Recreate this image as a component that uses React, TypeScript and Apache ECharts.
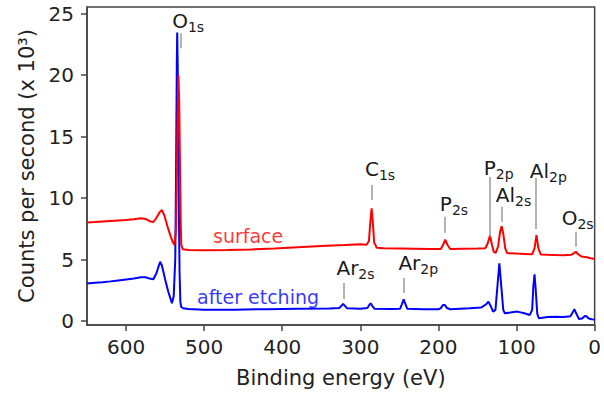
import React, { useEffect, useRef } from "react";
import * as echarts from "echarts";

// Survey spectrum, surface (red)  [binding energy eV, counts/s x 10^3]
const surfaceData: [number, number][] = [
  [650, 8.02], [640, 8.05], [630, 8.1], [620, 8.14], [610, 8.18], [600, 8.22], [590, 8.28],
  [581, 8.35], [575, 8.3], [570, 8.12], [565, 8.05], [561, 8.4], [557, 8.85], [554, 9.02],
  [551, 8.6], [547, 7.7], [543, 6.9], [540, 6.4], [538, 6.18], [536, 7.5], [535, 12],
  [534, 16.5], [533, 20.0], [532, 18], [531, 13], [530, 8], [529.3, 6.2], [527.3, 5.83],
  [520, 5.78], [500, 5.75], [470, 5.78], [440, 5.82], [410, 5.9], [380, 6.0], [350, 6.1],
  [320, 6.18], [300, 6.25], [292, 6.2], [289, 6.5], [287.3, 8.0], [285.6, 9.16], [284, 8.0],
  [282.3, 6.4], [279, 5.95], [270, 5.92], [250, 5.9], [230, 5.88], [210, 5.85], [197, 5.85],
  [194, 6.2], [191.3, 6.62], [188.5, 6.2], [185, 5.85], [170, 5.88], [150, 5.9], [140, 5.92],
  [137, 6.3], [134, 6.95], [131.5, 6.2], [129, 5.6], [126.5, 5.55], [123.5, 6.1], [121, 7.3],
  [119, 7.7], [117, 7.1], [114.5, 5.9], [112, 5.52], [100, 5.48], [90, 5.45], [80, 5.42],
  [77, 5.9], [74.5, 6.99], [72, 5.9], [69, 5.4], [60, 5.38], [50, 5.36], [40, 5.35],
  [30, 5.38], [27, 5.5], [24, 5.63], [21.5, 5.45], [17, 5.25], [10, 5.18], [5, 5.1], [0, 5.05],
];

// Survey spectrum, after etching (blue)
const etchedData: [number, number][] = [
  [650, 3.05], [640, 3.1], [630, 3.15], [620, 3.22], [610, 3.3], [600, 3.38], [590, 3.45],
  [581, 3.55], [575, 3.55], [570, 3.45], [565, 3.39], [561, 3.9], [558, 4.5], [556.3, 4.82],
  [554, 4.5], [550, 3.4], [546, 2.4], [543, 1.8], [541.3, 1.44], [539, 2.0], [537, 5.0],
  [536, 12], [535, 21], [534.5, 23.47], [533.5, 19], [532.5, 10], [531.5, 4], [530.5, 1.6],
  [529.5, 1.16], [527, 1.03], [520, 0.98], [500, 0.92], [460, 0.92], [420, 0.96], [380, 1.0],
  [340, 1.02], [327, 1.05], [324, 1.25], [322, 1.38], [320, 1.25], [317, 1.03], [300, 1.0],
  [291, 1.05], [288.5, 1.3], [286.8, 1.44], [285, 1.25], [282, 1.0], [260, 0.98], [249, 1.0],
  [246.5, 1.4], [244.5, 1.76], [242.5, 1.4], [240, 1.0], [220, 0.95], [200, 0.95], [197, 1.05],
  [194, 1.3], [192, 1.3], [189, 1.05], [185, 0.95], [160, 1.03], [145, 1.1], [139, 1.35],
  [136, 1.57], [133, 1.2], [130, 0.76], [127, 0.9], [124.5, 2.8], [122, 4.69], [119.5, 2.8],
  [117, 0.9], [115, 0.63], [108, 0.68], [99, 0.76], [90, 0.62], [83, 0.49], [80, 0.9],
  [78.5, 2.8], [77, 3.8], [75.5, 2.6], [73.5, 0.6], [71.5, 0.22], [60, 0.32], [50, 0.35],
  [40, 0.33], [31, 0.38], [28, 0.7], [26, 0.95], [23.5, 0.6], [20, 0.16], [16, 0.2], [13, 0.38],
  [11, 0.41], [8, 0.22], [4, 0.14], [0, 0.12],
];

const xTicks = [0, 100, 200, 300, 400, 500, 600];
const yTicks = [0, 5, 10, 15, 20, 25];

// Peak annotations
const peakMain = ["O", "C", "P", "P", "Al", "Al", "O", "Ar", "Ar"];
const peakSub = ["1s", "1s", "2s", "2p", "2s", "2p", "2s", "2s", "2p"];
const peakLabelE = [540.9, 294.1, 198.2, 141.9, 126.6, 83.1, 42.2, 330.6, 251.3];
const peakLabelV = [24.41, 12.37, 9.5, 12.41, 10.27, 12.24, 8.41, 4.33, 4.73];
const leaderE = [529.4, 285.5, 191.8, 134.3, 119.3, 75.4, 24.3, 321, 244.2];
const leaderTop = [23.41, 11.06, 8.48, 11.71, 9.29, 11.63, 7.26, 3.09, 3.5];
const leaderBottom = [22.2, 9.84, 7.18, 6.85, 8.07, 7.48, 6.04, 1.79, 2.28];

// Series names written in the plot
const seriesNames = ["surface", "after etching"];
const seriesColors = ["#ff0000", "#0000ff"];
const seriesLabelE = [443.7, 431];
const seriesLabelV = [6.88, 1.95];

const FONT = "DejaVu Sans";
const AXIS_COLOR = "#444";
const TEXT_COLOR = "#222";

export default function App() {
  const ref = useRef<HTMLDivElement>(null);

  useEffect(() => {
    if (!ref.current) return;
    const chart = echarts.init(ref.current, undefined, { renderer: "svg" });

    const peakItems = peakMain.map((m, i) => ({
      value: [peakLabelE[i], peakLabelV[i]],
      main: m,
      sub: peakSub[i],
    }));

    const leaderItems = leaderE.map((e, i) => ({
      coords: [
        [e, leaderTop[i]],
        [e, leaderBottom[i]],
      ],
    }));

    const nameItems = seriesNames.map((n, i) => ({
      value: [seriesLabelE[i], seriesLabelV[i]],
      name: n,
      label: { color: seriesColors[i] },
    }));

    chart.setOption({
      animation: false,
      backgroundColor: "#ffffff",
      textStyle: { fontFamily: FONT },
      grid: {
        left: 87,
        right: 9,
        top: 7,
        bottom: 73,
        show: true,
        borderColor: AXIS_COLOR,
        borderWidth: 1.5,
        backgroundColor: "transparent",
      },
      xAxis: {
        type: "value",
        min: 0,
        max: 650,
        inverse: true,
        name: "Binding energy (eV)",
        nameLocation: "middle",
        nameGap: 42,
        nameTextStyle: { fontSize: 21, color: TEXT_COLOR, fontFamily: FONT },
        axisLine: { show: true, onZero: false, lineStyle: { color: AXIS_COLOR, width: 1.5 } },
        axisTick: { show: true, customValues: xTicks, length: 6, lineStyle: { color: AXIS_COLOR, width: 1.5 } },
        axisLabel: { customValues: xTicks, fontSize: 20, color: TEXT_COLOR, margin: 12, fontFamily: FONT },
        splitLine: { show: false },
      },
      yAxis: {
        type: "value",
        min: -0.33,
        max: 25.55,
        name: "Counts per second (x 10³)",
        nameLocation: "middle",
        nameGap: 50,
        nameTextStyle: { fontSize: 21, color: TEXT_COLOR, fontFamily: FONT },
        axisLine: { show: true, onZero: false, lineStyle: { color: AXIS_COLOR, width: 1.5 } },
        axisTick: { show: true, customValues: yTicks, length: 6, lineStyle: { color: AXIS_COLOR, width: 1.5 } },
        axisLabel: { customValues: yTicks, fontSize: 20, color: TEXT_COLOR, margin: 13, fontFamily: FONT },
        splitLine: { show: false },
      },
      series: [
        {
          type: "line",
          name: "after etching",
          data: etchedData,
          showSymbol: false,
          symbol: "none",
          lineStyle: { color: "#0000ff", width: 2 },
          z: 2,
        },
        {
          type: "line",
          name: "surface",
          data: surfaceData,
          showSymbol: false,
          symbol: "none",
          lineStyle: { color: "#ff0000", width: 2 },
          z: 3,
        },
        {
          type: "lines",
          coordinateSystem: "cartesian2d",
          data: leaderItems,
          symbol: "none",
          silent: true,
          lineStyle: { color: "#999999", width: 1.5, opacity: 1 },
          z: 4,
        },
        {
          type: "scatter",
          data: peakItems,
          symbol: "circle",
          symbolSize: 1,
          itemStyle: { color: "transparent" },
          silent: true,
          z: 5,
          label: {
            show: true,
            position: "inside",
            align: "left",
            verticalAlign: "middle",
            color: "#1a1a1a",
            opacity: 1,
            formatter: (p: any) => `{m|${p.data.main}}{s|${p.data.sub}}`,
            rich: {
              m: { fontSize: 20, lineHeight: 22, color: "#1a1a1a", opacity: 1, fontFamily: FONT },
              s: { fontSize: 14, lineHeight: 14, color: "#1a1a1a", opacity: 1, fontFamily: FONT, padding: [12, 0, 0, 0] },
            },
          },
        },
        {
          type: "scatter",
          data: nameItems,
          symbol: "circle",
          symbolSize: 1,
          itemStyle: { color: "transparent" },
          silent: true,
          z: 5,
          label: {
            show: true,
            position: "inside",
            align: "center",
            verticalAlign: "middle",
            fontSize: 19,
            fontFamily: FONT,
            formatter: (p: any) => p.data.name,
          },
        },
      ],
    });

    return () => {
      chart.dispose();
    };
  }, []);

  return (
    <div
      ref={ref}
      style={{ position: "fixed", left: 0, top: 0, width: 604, height: 398, background: "#fff" }}
    />
  );
}
